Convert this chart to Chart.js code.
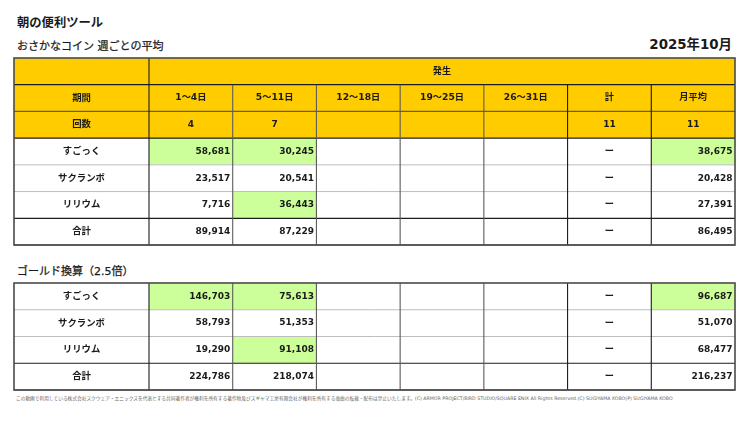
<!DOCTYPE html>
<html lang="ja">
<head>
<meta charset="utf-8">
<title>おさかなコイン 週ごとの平均</title>
<script src="https://cdn.jsdelivr.net/npm/chart.js@4"></script>
<style>
  html, body { margin: 0; background: #fff; }
  body { width: 750px; height: 421px; position: relative; overflow: hidden; color: #1a1a1a;
         font-family: "DejaVu Sans", "Noto Sans CJK JP", sans-serif; filter: blur(0.3px); }
  .txt { position: absolute; white-space: nowrap; line-height: 1; }
  .sub { font-size: 11px; -webkit-text-stroke: 0.25px #1a1a1a; }
  canvas { position: absolute; }
</style>
</head>
<body>
<div class="txt" style="left:17px;top:16.5px;font-size:12.3px;font-weight:700">朝の便利ツール</div>
<div class="txt sub" style="left:17px;top:40.5px">おさかなコイン 週ごとの平均</div>
<div class="txt" style="right:18px;top:38px;font-size:13.4px;font-weight:700">2025年10月</div>
<div class="txt sub" style="left:17px;top:266px">ゴールド換算（2.5倍）</div>
<div class="txt" style="left:16px;top:397px;font-size:4.71px;color:#666">この動画で利用している株式会社スクウェア・エニックスを代表とする共同著作者が権利を所有する著作物及びスギヤマ工房有限会社が権利を所有する楽曲の転載・配布は禁止いたします。(C) ARMOR PROJECT/BIRD STUDIO/SQUARE ENIX All Rights Reserved.(C) SUGIYAMA KOBO(P) SUGIYAMA KOBO</div>

<canvas id="coinTable" width="725" height="191" style="left:12px;top:56px"></canvas>
<canvas id="goldTable" width="725" height="111" style="left:12px;top:281px"></canvas>

<script>
const headerTitle = "発生";
const periods = ["1～4日", "5～11日", "12～18日", "19～25日", "26～31日", "計", "月平均"];
const counts = [4, 7, null, null, null, 11, 11];
const fishNames = ["すごっく", "サクランボ", "リリウム", "合計"];

const coinSugokku = [58681, 30245, null, null, null, null, 38675];
const coinSakuranbo = [23517, 20541, null, null, null, null, 20428];
const coinLilium = [7716, 36443, null, null, null, null, 27391];
const coinTotal = [89914, 87229, null, null, null, null, 86495];

const goldSugokku = [146703, 75613, null, null, null, null, 96687];
const goldSakuranbo = [58793, 51353, null, null, null, null, 51070];
const goldLilium = [19290, 91108, null, null, null, null, 68477];
const goldTotal = [224786, 218074, null, null, null, null, 216237];

// 緑にする境目
const coinMark = 30000;
const goldMark = 75000;

const YELLOW = "#ffcc00";
const GREEN = "#ccff99";
const TOTAL_COL = 5;
const DARK = "#1c1c1c";
const MID = "#5c5c5c";
const LIGHT = "#bdbdbd";
const OUTER = "#4a4a4a";
const colLineColors = [DARK, MID, MID, MID, MID, DARK, DARK];

const labelFont = 'bold 9.2px "DejaVu Sans", "Noto Sans CJK JP", sans-serif';
const numberFont = 'bold 9px "DejaVu Sans", "Noto Sans CJK JP", sans-serif';

const tablePlugin = {
  id: "tablePlugin",
  beforeDraw(chart) {
    // 左端の見出し列の黄色
    const y = chart.scales.y;
    const t = chart.options.plugins.tablePlugin;
    const rowH = y.height / y.ticks.length;
    const ctx = chart.ctx;
    ctx.save();
    ctx.fillStyle = YELLOW;
    if (t.headerRows > 0) ctx.fillRect(y.left, chart.chartArea.top, y.width, rowH * t.headerRows);
    ctx.restore();
  },
  afterDatasetsDraw(chart) {
    const t = chart.options.plugins.tablePlugin;
    const ctx = chart.ctx;
    const area = chart.chartArea;
    const x = chart.scales.x;
    const y = chart.scales.y;
    const rowH = y.height / y.ticks.length;
    const left = y.left;

    function line(x1, y1, x2, y2, color, width) {
      ctx.beginPath();
      ctx.strokeStyle = color;
      ctx.lineWidth = width;
      ctx.moveTo(x1, y1);
      ctx.lineTo(x2, y2);
      ctx.stroke();
    }

    ctx.save();
    // 横線
    t.rowLines.forEach((color, i) => {
      const py = y.getPixelForValue(i) + rowH / 2;
      line(left, py, area.right, py, color, color === LIGHT ? 1 : 1.2);
    });
    // 縦線 (結合した行には引かない)
    colLineColors.forEach((color, i) => {
      const px = x.getPixelForValue(i);
      const top = t.merged && i > 0 ? area.top + rowH : area.top;
      line(px, top, px, area.bottom, color, 1.1);
    });
    ctx.strokeStyle = OUTER;
    ctx.lineWidth = 1.6;
    ctx.strokeRect(left, area.top, area.right - left, area.bottom - area.top);

    // セルの文字
    ctx.fillStyle = "#1a1a1a";
    ctx.textBaseline = "middle";
    chart.data.datasets.forEach((ds, c) => {
      const meta = chart.getDatasetMeta(c);
      ds.cellText.forEach((text, r) => {
        const bar = meta.data[r];
        if (text === null || text === "" || !bar) return;
        const p = bar.getProps(["x", "y", "base"], true);
        if (typeof text === "number" && r >= t.headerRows) {
          ctx.font = numberFont;
          ctx.textAlign = "right";
          ctx.fillText(text.toLocaleString("en-US"), p.x - 2.5, p.y);
        } else {
          ctx.font = typeof text === "number" ? numberFont : labelFont;
          ctx.textAlign = "center";
          ctx.fillText(String(text), (p.x + p.base) / 2, p.y);
        }
      });
    });
    ctx.restore();
  }
};

function makeTable(id, rowLabels, headers, body, mark, rowLines) {
  const headerRows = headers.length;
  const merged = headers.length > 0 && headers[0].length === 1;
  const datasets = periods.map((_, c) => {
    const data = [], colors = [], cellText = [];
    headers.forEach(row => {
      if (row.length === 1) {
        data.push(c === 0 ? [0, periods.length] : null);
        cellText.push(c === 0 ? row[0] : null);
      } else {
        data.push([c, c + 1]);
        cellText.push(row[c]);
      }
      colors.push(YELLOW);
    });
    body.forEach(row => {
      const v = row[c];
      data.push([c, c + 1]);
      colors.push(v !== null && v >= mark && row !== body[body.length - 1] ? GREEN : "#fff");
      cellText.push(v === null && c === TOTAL_COL ? "ー" : v);
    });
    return { label: periods[c], data, backgroundColor: colors, cellText, borderWidth: 0,
             barPercentage: 1, categoryPercentage: 1, grouped: false };
  });

  return new Chart(document.getElementById(id).getContext("2d"), {
    type: "bar",
    data: { labels: rowLabels, datasets },
    plugins: [tablePlugin],
    options: {
      indexAxis: "y",
      responsive: false,
      animation: false,
      layout: { padding: 2 },
      plugins: {
        legend: { display: false },
        title: { display: false },
        tooltip: { enabled: false },
        tablePlugin: { headerRows, merged, rowLines }
      },
      scales: {
        x: { type: "linear", min: 0, max: periods.length, display: false },
        y: {
          type: "category",
          offset: true,
          grid: { display: false },
          border: { display: false },
          afterFit(scale) {
            scale.width = 135;
            scale.paddingTop = 0;
            scale.paddingBottom = 0;
          },
          ticks: { crossAlign: "center", padding: 36, color: "#1a1a1a", autoSkip: false,
                   font: { size: 9.4, weight: "bold", family: '"DejaVu Sans", "Noto Sans CJK JP", sans-serif' } }
        }
      }
    }
  });
}

makeTable("coinTable", ["", "期間", "回数"].concat(fishNames),
  [[headerTitle], periods, counts],
  [coinSugokku, coinSakuranbo, coinLilium, coinTotal], coinMark,
  [DARK, MID, DARK, LIGHT, LIGHT, DARK, OUTER]);

makeTable("goldTable", fishNames, [],
  [goldSugokku, goldSakuranbo, goldLilium, goldTotal], goldMark,
  [LIGHT, LIGHT, DARK, OUTER]);
</script>
</body>
</html>
